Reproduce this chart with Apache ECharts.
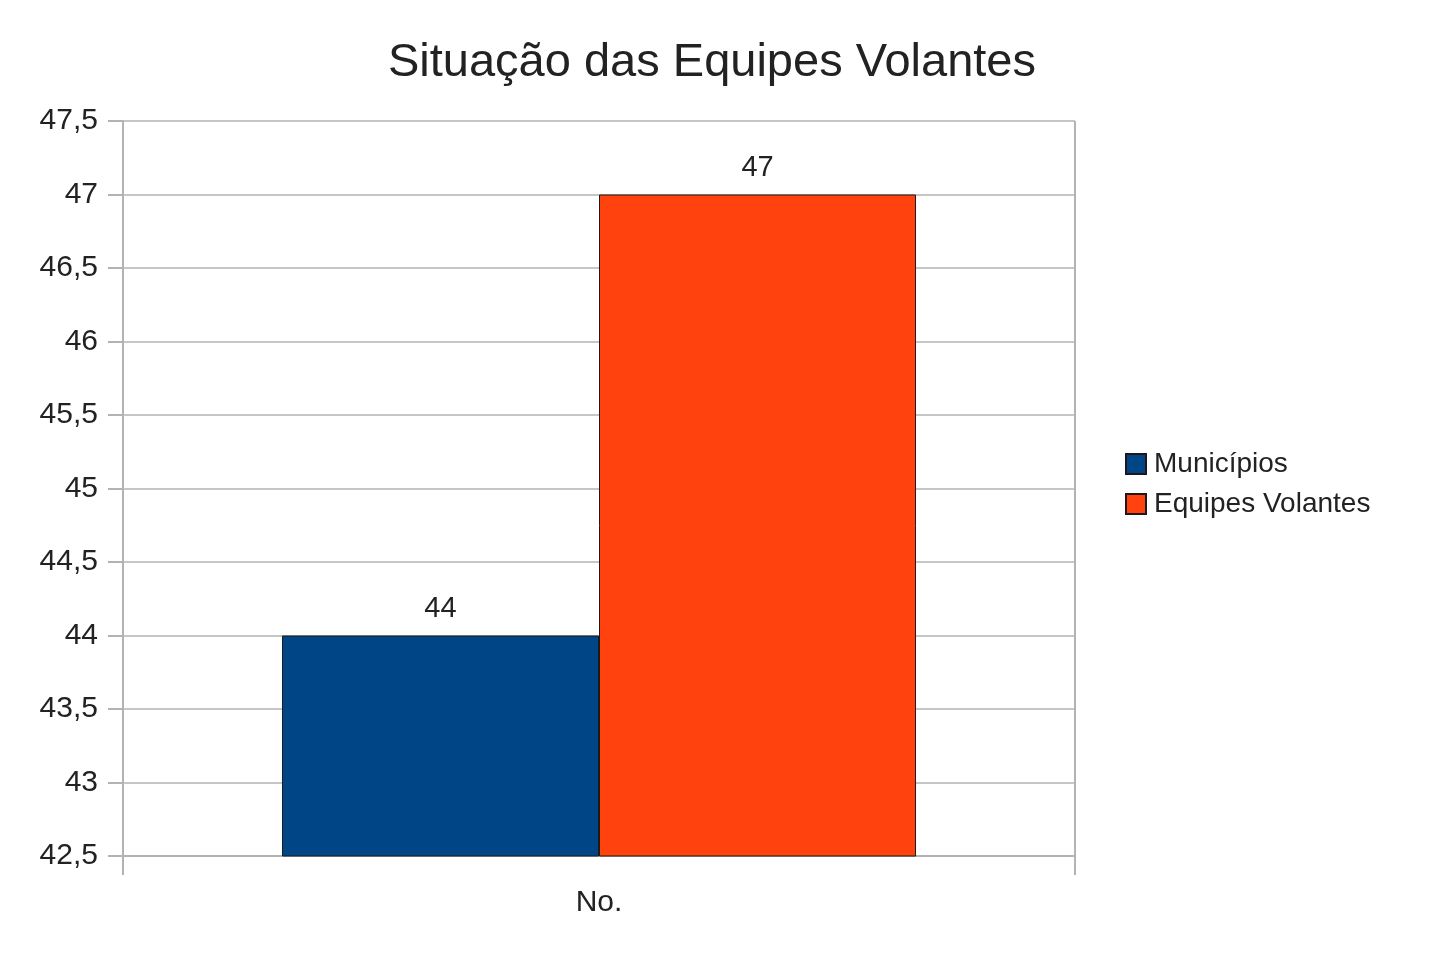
<!DOCTYPE html>
<html>
<head>
<meta charset="utf-8">
<script src="https://cdn.jsdelivr.net/npm/echarts@6/dist/echarts.min.js"></script>
<style>
  html, body { margin: 0; padding: 0; background: #fff; }
  #chart { width: 1431px; height: 954px; }
</style>
</head>
<body>
<div id="chart"></div>
<script>
const categories = ['No.'];
const seriesNames = ['Municípios', 'Equipes Volantes'];
const municipios = [44];
const equipesVolantes = [47];
const seriesColors = ['#004586', '#ff420e'];

const FONT = '"Liberation Sans", Arial, sans-serif';

function commaNumber(value) {
    return String(value).replace('.', ',');
}

document.addEventListener('DOMContentLoaded', () => {
    let chart = echarts.init(document.getElementById('chart'));
    let option = {
        animation: false,
        backgroundColor: '#fff',
        title: {
            text: 'Situação das Equipes Volantes',
            left: 707,
            textAlign: 'center',
            top: 35,
            textStyle: {
                fontFamily: FONT,
                fontSize: 47,
                fontWeight: 'normal',
                color: '#222'
            }
        },
        legend: {
            data: seriesNames,
            orient: 'vertical',
            left: 1120,
            top: 445,
            itemWidth: 20,
            itemHeight: 20,
            itemGap: 12,
            icon: 'rect',
            textStyle: {
                fontFamily: FONT,
                fontSize: 28,
                color: '#222',
                padding: [0, 0, 0, 3]
            }
        },
        grid: {
            left: 123,
            right: 356,
            top: 121,
            bottom: 98
        },
        xAxis: {
            type: 'category',
            data: categories,
            axisLine: {
                lineStyle: { color: '#b3b3b3', width: 2 }
            },
            axisTick: {
                show: true,
                length: 19,
                lineStyle: { color: '#b3b3b3', width: 2 }
            },
            splitLine: {
                show: true,
                lineStyle: { color: '#b3b3b3', width: 2 }
            },
            axisLabel: {
                fontFamily: FONT,
                fontSize: 30,
                color: '#222',
                margin: 32
            }
        },
        yAxis: {
            type: 'value',
            min: 42.5,
            max: 47.5,
            interval: 0.5,
            axisLine: {
                show: true,
                lineStyle: { color: '#b3b3b3', width: 2 }
            },
            axisTick: {
                show: true,
                length: 15,
                lineStyle: { color: '#b3b3b3', width: 2 }
            },
            splitLine: {
                lineStyle: { color: '#b3b3b3', width: 1.5 }
            },
            axisLabel: {
                fontFamily: FONT,
                fontSize: 30,
                color: '#222',
                margin: 25,
                formatter: commaNumber
            }
        },
        series: [
            {
                name: seriesNames[0],
                type: 'bar',
                data: municipios,
                barGap: '0%',
                barCategoryGap: '33.4%',
                itemStyle: {
                    color: seriesColors[0],
                    borderColor: '#1a1a1a',
                    borderWidth: 1
                },
                label: {
                    show: true,
                    position: 'top',
                    distance: 12,
                    fontFamily: FONT,
                    fontSize: 29,
                    color: '#222'
                }
            },
            {
                name: seriesNames[1],
                type: 'bar',
                data: equipesVolantes,
                itemStyle: {
                    color: seriesColors[1],
                    borderColor: '#1a1a1a',
                    borderWidth: 1
                },
                label: {
                    show: true,
                    position: 'top',
                    distance: 12,
                    fontFamily: FONT,
                    fontSize: 29,
                    color: '#222'
                }
            }
        ]
    };
    chart.setOption(option);
});
</script>
</body>
</html>
